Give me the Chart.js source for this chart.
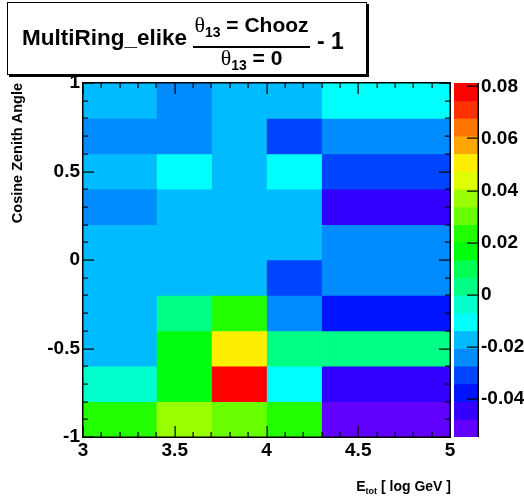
<!DOCTYPE html>
<html>
<head>
<meta charset="utf-8">
<script src="https://cdn.jsdelivr.net/npm/chart.js@4/dist/chart.umd.min.js"></script>
<style>
  html, body { margin: 0; padding: 0; background: #fff; }
  #wrap { position: relative; width: 524px; height: 499px; }
  #main { position: absolute; left: 0; top: 0; }
  #pal  { position: absolute; left: 440px; top: 0; }
</style>
</head>
<body>
<div id="wrap">
  <canvas id="main" width="524" height="499"></canvas>
  <canvas id="pal" width="84" height="499"></canvas>
</div>
<script>
// Bin edges: total energy (log10 GeV) and cosine of the zenith angle
const energyEdges = [3.0, 3.4, 3.7, 4.0, 4.3, 5.0];
const cosEdges = [-1.0, -0.8, -0.6, -0.4, -0.2, 0.0, 0.2, 0.4, 0.6, 0.8, 1.0];

// Ratio (theta13 = Chooz) / (theta13 = 0) - 1, one row per cos-zenith bin (bottom to top),
// one entry per energy bin
const ratio = [
  [ 0.0235,  0.0371,  0.0303,  0.0231, -0.0547],
  [-0.0037,  0.0165,  0.0813, -0.0104, -0.0446],
  [-0.0174,  0.0168,  0.0508,  0.0030,  0.0033],
  [-0.0172,  0.0029,  0.0236, -0.0240, -0.0378],
  [-0.0171, -0.0175, -0.0173, -0.0308, -0.0243],
  [-0.0170, -0.0176, -0.0172, -0.0169, -0.0241],
  [-0.0242, -0.0174, -0.0171, -0.0175, -0.0444],
  [-0.0173, -0.0106, -0.0170, -0.0103, -0.0310],
  [-0.0240, -0.0244, -0.0171, -0.0307, -0.0238],
  [-0.0172, -0.0243, -0.0174, -0.0170, -0.0106]
];

// Tick values of the three axes
const xTicks = [3, 3.5, 4, 4.5, 5];
const yTicks = [-1, -0.5, 0, 0.5, 1];
const zTicks = [-0.04, -0.02, 0, 0.02, 0.04, 0.06, 0.08];

// Rainbow colour palette, 20 contour levels from low (violet) to high (red)
const palette = [
  '#6200ff', '#3300ff', '#0014ff', '#0044ff', '#008bff',
  '#00bbff', '#00fffc', '#00ffcc', '#00ff85', '#00ff55',
  '#00ff0e', '#22ff00', '#69ff00', '#99ff00', '#e0ff00',
  '#ffee00', '#ffa700', '#ff7700', '#ff3000', '#ff0000'
];

const allValues = ratio.flat();
const zMin = Math.min(...allValues);
const zMax = Math.max(...allValues);
const nLevels = palette.length;
const dz = (zMax - zMin) / nLevels;
function colorOf(v) {
  const k = Math.floor((v - zMin) / dz);
  return palette[Math.max(0, Math.min(nLevels - 1, k))];
}

const FONT = '"Liberation Sans", Arial, Helvetica, sans-serif';
Chart.defaults.font.family = FONT;
Chart.defaults.color = '#000';

function zeroPadding(s) {
  s.paddingTop = 0; s.paddingBottom = 0; s.paddingLeft = 0; s.paddingRight = 0;
}

// One floating-bar dataset per energy bin; each bar spans its energy bin and is
// centred on its cos-zenith bin.
const cosCenters = cosEdges.slice(0, -1).map((e, i) => (e + cosEdges[i + 1]) / 2);
const datasets = energyEdges.slice(0, -1).map((e0, j) => ({
  data: cosCenters.map((c, i) => ({ y: c, x: [e0, energyEdges[j + 1]] })),
  backgroundColor: ratio.map(row => colorOf(row[j])),
  borderWidth: 0,
  barPercentage: 1,
  categoryPercentage: 1,
  grouped: false
}));

// Frame and inward tick marks (drawn as thin filled rectangles)
function drawFrame(chart) {
  const ctx = chart.ctx;
  const a = chart.chartArea;
  const sx = chart.scales.x, sy = chart.scales.y;
  const L = Math.round(a.left), T = Math.round(a.top);
  const R = Math.round(a.right), B = Math.round(a.bottom);
  ctx.save();
  ctx.fillStyle = '#000';
  for (let i = 0; i <= 20; i++) {
    const px = Math.round(sx.getPixelForValue(3 + i * 0.1));
    const len = (i % 5 === 0) ? 11 : 5;
    ctx.fillRect(px - 0.5, B - len, 1.2, len);
    ctx.fillRect(px - 0.5, T, 1.2, len);
  }
  for (let i = 0; i <= 20; i++) {
    const py = Math.round(sy.getPixelForValue(-1 + i * 0.1));
    const len = (i % 5 === 0) ? 11 : 5;
    ctx.fillRect(L, py - 0.5, len, 1.2);
    ctx.fillRect(R - len, py - 0.5, len, 1.2);
  }
  ctx.fillRect(L - 1, T - 1, R - L + 2, 1.5);
  ctx.fillRect(L - 1, B - 0.5, R - L + 2, 1.5);
  ctx.fillRect(L - 1, T - 1, 1.5, B - T + 2);
  ctx.fillRect(R - 0.5, T - 1, 1.5, B - T + 2);
  ctx.restore();
}

function drawTitles(chart) {
  const ctx = chart.ctx;
  ctx.save();
  // title box with drop shadow
  ctx.fillStyle = '#000';
  ctx.fillRect(9, 4, 360, 73);
  ctx.fillStyle = '#fff';
  ctx.fillRect(7, 2, 360, 73);
  ctx.strokeStyle = '#000';
  ctx.lineWidth = 1;
  ctx.strokeRect(7.5, 2.5, 359, 72);

  ctx.fillStyle = '#000';
  ctx.textBaseline = 'alphabetic';
  ctx.textAlign = 'left';
  ctx.font = 'bold 22.5px ' + FONT;
  ctx.fillText('MultiRing_elike', 22, 45);

  // fraction  theta13 = Chooz / theta13 = 0
  const lx0 = 193, lx1 = 310;
  const lc = (lx0 + lx1) / 2;
  ctx.fillRect(lx0, 46, lx1 - lx0, 2);
  function ratioPart(rest, base) {
    const serif = '22px "Liberation Serif", "DejaVu Serif", serif';
    ctx.font = serif;
    const wT = ctx.measureText('\u03b8').width;
    ctx.font = 'bold 14px ' + FONT;
    const wS = ctx.measureText('13').width;
    ctx.font = 'bold 21px ' + FONT;
    const wR = ctx.measureText(rest).width;
    const x0 = lc - (wT + wS + wR) / 2;
    ctx.font = serif;
    ctx.fillText('\u03b8', x0, base);
    ctx.font = 'bold 14px ' + FONT;
    ctx.fillText('13', x0 + wT, base + 5);
    ctx.font = 'bold 21px ' + FONT;
    ctx.fillText(rest, x0 + wT + wS, base);
  }
  ratioPart(' = Chooz', 32);
  ratioPart(' = 0', 65);

  ctx.font = 'bold 23px ' + FONT;
  ctx.fillText('- 1', 317, 49);

  // x-axis title  E_tot [ log GeV ]
  ctx.font = 'bold 14px ' + FONT;
  const wE = ctx.measureText('E').width;
  const wRest = ctx.measureText(' [ log GeV ]').width;
  ctx.font = 'bold 9px ' + FONT;
  const wSub = ctx.measureText('tot').width;
  const xs = 451 - (wE + wSub + wRest);
  ctx.font = 'bold 14px ' + FONT;
  ctx.fillText('E', xs, 491);
  ctx.fillText(' [ log GeV ]', xs + wE + wSub, 491);
  ctx.font = 'bold 9px ' + FONT;
  ctx.fillText('tot', xs + wE, 494);
  ctx.restore();
}

const framePlugin = {
  id: 'padFrame',
  afterDraw(chart) {
    drawFrame(chart);
    drawTitles(chart);
  }
};

new Chart(document.getElementById('main'), {
  type: 'bar',
  data: { datasets },
  options: {
    responsive: false,
    animation: false,
    indexAxis: 'y',
    layout: { padding: { left: 0, top: 83, right: 74, bottom: 0 } },
    plugins: { legend: { display: false }, tooltip: { enabled: false } },
    scales: {
      x: {
        type: 'linear', position: 'bottom', min: 3, max: 5,
        grid: { display: false, drawTicks: false },
        border: { display: false },
        afterBuildTicks: s => { s.ticks = xTicks.map(v => ({ value: v })); },
        ticks: {
          autoSkip: false, maxRotation: 0, padding: 2, color: '#000',
          font: { size: 19, weight: 'bold' },
          callback: v => String(v)
        },
        afterFit: s => { s.height = 62; zeroPadding(s); }
      },
      y: {
        type: 'linear', position: 'left', min: -1, max: 1, offset: false,
        grid: { display: false, drawTicks: false },
        border: { display: false },
        afterBuildTicks: s => { s.ticks = yTicks.map(v => ({ value: v })); },
        ticks: {
          autoSkip: false, padding: 3, color: '#000',
          font: { size: 19, weight: 'bold' },
          callback: v => String(v)
        },
        title: {
          display: true, text: 'Cosine Zenith Angle', align: 'end', color: '#000',
          font: { size: 14.5, weight: 'bold' }, padding: { top: 9, bottom: 0 }
        },
        afterFit: s => { s.width = 83; zeroPadding(s); }
      }
    }
  },
  plugins: [framePlugin]
});

// Colour scale: one floating bar per contour level
const levelBars = palette.map((c, k) => ({ x: 'z', y: [zMin + k * dz, zMin + (k + 1) * dz] }));

const paletteAxisPlugin = {
  id: 'paletteAxis',
  afterDraw(chart) {
    const ctx = chart.ctx;
    const a = chart.chartArea;
    const sy = chart.scales.y;
    const R = Math.round(a.right);
    ctx.save();
    ctx.fillStyle = '#000';
    ctx.fillRect(R - 0.5, Math.round(a.top), 1.5, Math.round(a.bottom - a.top));
    zTicks.forEach(v => {
      const py = Math.round(sy.getPixelForValue(v));
      ctx.fillRect(R - 11, py - 0.5, 11, 1.2);
    });
    ctx.restore();
  }
};

new Chart(document.getElementById('pal'), {
  type: 'bar',
  data: {
    labels: ['z'],
    datasets: [{
      data: levelBars,
      backgroundColor: palette,
      borderWidth: 0,
      barPercentage: 1,
      categoryPercentage: 1
    }]
  },
  options: {
    responsive: false,
    animation: false,
    layout: { padding: { left: 14, top: 83, right: 0, bottom: 62 } },
    plugins: { legend: { display: false }, tooltip: { enabled: false } },
    scales: {
      x: { type: 'category', display: false, offset: true },
      y: {
        type: 'linear', position: 'right', min: zMin, max: zMax,
        grid: { display: false, drawTicks: false },
        border: { display: false },
        afterBuildTicks: s => { s.ticks = zTicks.map(v => ({ value: v })); },
        ticks: {
          autoSkip: false, padding: 3, color: '#000',
          font: { size: 19, weight: 'bold' },
          callback: v => String(Math.round(v * 100) / 100)
        },
        afterFit: s => { s.width = 46; zeroPadding(s); }
      }
    }
  },
  plugins: [paletteAxisPlugin]
});
</script>
</body>
</html>
